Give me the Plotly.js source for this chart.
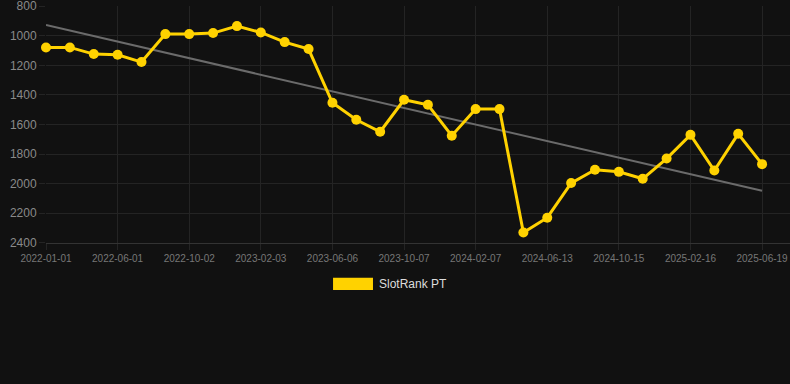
<!DOCTYPE html>
<html>
<head>
<meta charset="utf-8">
<script src="https://cdn.plot.ly/plotly-3.0.1.min.js"></script>
<style>
  html, body { margin: 0; padding: 0; background: #111111; }
  #chart { width: 790px; height: 384px; }
</style>
</head>
<body>
<div id="chart"></div>
<script>
// Dates (category labels), one per data point
const dates = [
  "2022-01-01","2022-02-20","2022-04-11","2022-06-01","2022-07-12","2022-08-22",
  "2022-10-02","2022-11-12","2022-12-23","2023-02-03","2023-03-16","2023-04-26",
  "2023-06-06","2023-07-17","2023-08-27","2023-10-07","2023-11-17","2023-12-28",
  "2024-02-07","2024-03-20","2024-05-02","2024-06-13","2024-07-24","2024-09-03",
  "2024-10-15","2024-11-25","2025-01-05","2025-02-16","2025-03-29","2025-05-09",
  "2025-06-19"
];
// SlotRank PT rank values
const ranks = [
  1079, 1079, 1124, 1129, 1178, 989,
  989, 982, 935, 978, 1043, 1090,
  1453, 1568, 1649, 1433, 1467, 1676,
  1496, 1496, 2330, 2230, 1996, 1906,
  1920, 1967, 1830, 1670, 1911, 1663,
  1868
];
// Shown tick labels
const tickDates = [
  "2022-01-01","2022-06-01","2022-10-02","2023-02-03","2023-06-06","2023-10-07",
  "2024-02-07","2024-06-13","2024-10-15","2025-02-16","2025-06-19"
];
const yTicks = [800, 1000, 1200, 1400, 1600, 1800, 2000, 2200, 2400];
const seriesName = "SlotRank PT";

// Linear regression trend over point index
const n = ranks.length;
let sx = 0, sy = 0, sxx = 0, sxy = 0;
ranks.forEach((v, i) => { sx += i; sy += v; sxx += i * i; sxy += i * v; });
const slope = (n * sxy - sx * sy) / (n * sxx - sx * sx);
const intercept = (sy - slope * sx) / n;
const trendX = [dates[0], dates[n - 1]];
const trendY = [intercept, intercept + slope * (n - 1)];

const gold = "#FFD200";
const gridColor = "#242424";
const font = "Liberation Sans, Arial, sans-serif";

const traces = [
  {
    x: trendX, y: trendY, type: "scatter", mode: "lines",
    line: { color: "#6b6b6b", width: 2 },
    hoverinfo: "skip", showlegend: false, cliponaxis: false
  },
  {
    x: dates, y: ranks, type: "scatter", mode: "lines+markers",
    name: seriesName,
    line: { color: gold, width: 3 },
    marker: { color: gold, size: 10 },
    showlegend: false, cliponaxis: false
  }
];

const layout = {
  width: 790, height: 384,
  paper_bgcolor: "#111111", plot_bgcolor: "#111111",
  margin: { l: 46, r: 0, t: 6, b: 141, pad: 0 },
  font: { family: font, color: "#888888" },
  showlegend: false,
  xaxis: {
    type: "category",
    categoryorder: "array", categoryarray: dates,
    range: [0, 31.17],
    tickvals: tickDates, ticktext: tickDates,
    showgrid: true, gridcolor: gridColor, gridwidth: 1,
    ticks: "outside", ticklen: 6, tickcolor: gridColor,
    showline: true, linecolor: "#333333", linewidth: 1,
    zeroline: false,
    tickfont: { family: font, size: 10, color: "#777777" }
  },
  yaxis: {
    range: [2401, 799],
    tickvals: yTicks,
    ticklabeloverflow: "allow",
    showgrid: true, gridcolor: gridColor, gridwidth: 1,
    ticks: "outside", ticklen: 6, tickcolor: gridColor,
    showline: false, zeroline: false,
    tickfont: { family: font, size: 12, color: "#8a8a8a" }
  },
  shapes: [
    {
      type: "rect", xref: "paper", yref: "paper",
      x0: 0.3858, x1: 0.4395, y0: -0.1985, y1: -0.147,
      fillcolor: gold, line: { width: 0 }
    }
  ],
  annotations: [
    {
      xref: "paper", yref: "paper", x: 0.4450, y: -0.1733,
      xanchor: "left", yanchor: "middle", showarrow: false,
      text: seriesName,
      font: { family: font, size: 12, color: "#dddddd" }
    }
  ]
};

Plotly.newPlot("chart", traces, layout, { displayModeBar: false, staticPlot: true });
</script>
</body>
</html>
